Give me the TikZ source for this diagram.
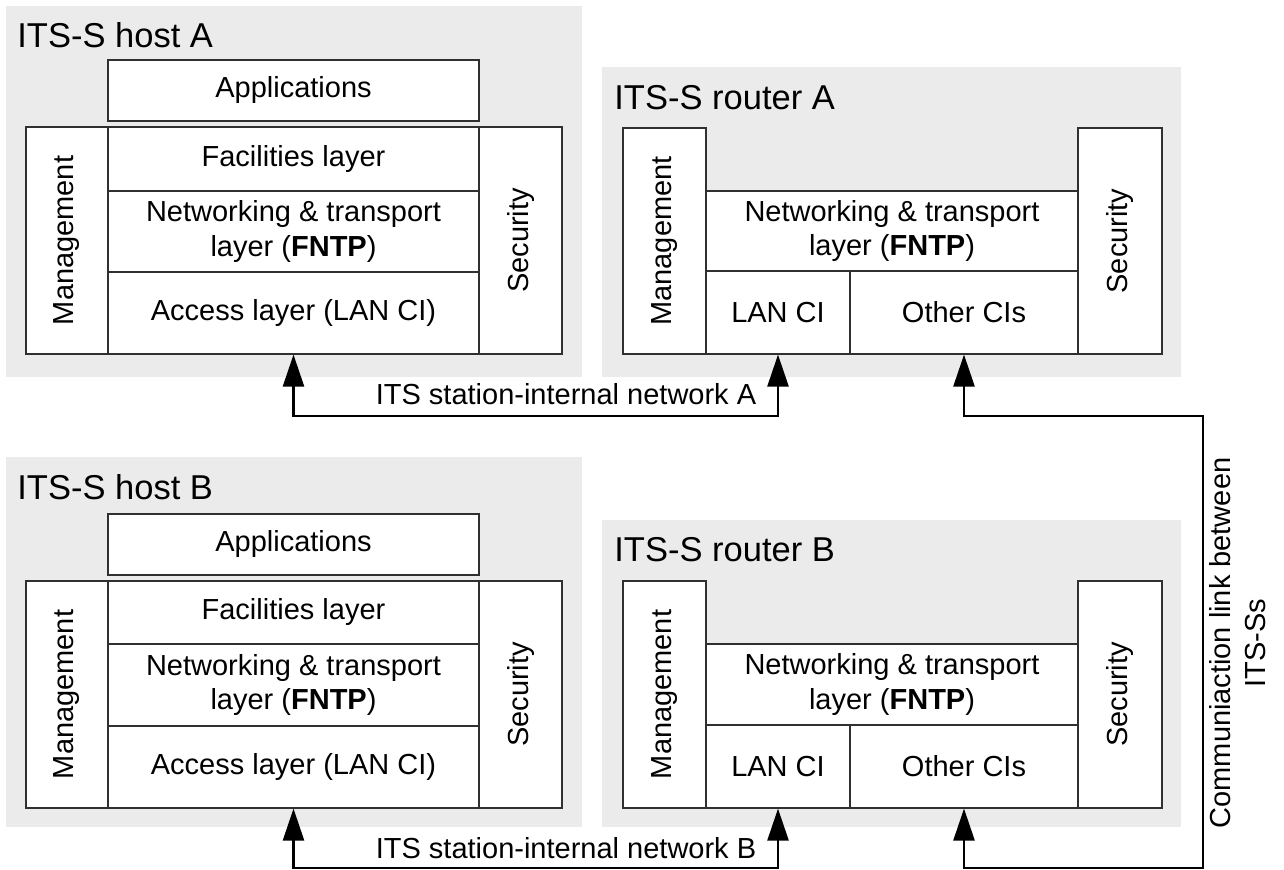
\documentclass[tikz,border=0pt]{standalone}
\usepackage{fontspec}
\setmainfont{Liberation Sans}
\usetikzlibrary{arrows.meta}
\definecolor{bggray}{HTML}{EBEBEB}
\definecolor{edgecol}{HTML}{303030}
\newcommand{\myBody}{\fontsize{14.5}{17.4}\selectfont}
\newcommand{\myTitle}{\fontsize{17.25}{20}\selectfont}
% style, name, x1, y1, x2, y2, text
\newcommand{\mkbox}[7]{%
  \node[#1, minimum width={(#5-#3)*0.5pt}, minimum height={(#6-#4)*0.5pt}]
    (#2) at ({(#3+#5)/2},{(#4+#6)/2}) {#7};}
\begin{document}
\begin{tikzpicture}[x=0.5pt,y=-0.5pt,
  panel/.style={fill=bggray, draw=none, inner sep=0pt},
  cell/.style={draw=edgecol, fill=white, line width=0.6pt, inner sep=0pt,
    align=center, font=\myBody},
  vtext/.style={rotate=90, font=\myBody, inner sep=0pt},
  title/.style={anchor=base west, font=\myTitle, inner sep=0pt},
  netlabel/.style={anchor=base, font=\myBody, inner sep=0pt},
  link/.style={line width=1.25pt, draw=black,
    {Triangle[length=16pt,width=10.5pt]}-{Triangle[length=16pt,width=10.5pt]}}]
\useasboundingbox (0,0) rectangle (1284,870);

% ---------- ITS-S host A ----------
\mkbox{panel}{hostA}{6}{6}{582}{377}{}
\node[title] (hostAt) at (17,48) {ITS-S host A};
\mkbox{cell}{haApp}{108}{60}{479}{121}{Applications}
\mkbox{cell}{haMgmt}{26}{127}{108}{354}{}
\mkbox{cell}{haSec}{479}{127}{562}{354}{}
\mkbox{cell}{haFac}{108}{127}{479}{191}{Facilities layer}
\mkbox{cell}{haNet}{108}{191}{479}{272}{Networking \& transport\\layer (\textbf{FNTP})}
\mkbox{cell}{haAcc}{108}{272}{479}{354}{Access layer (LAN CI)}
\node[vtext] at (haMgmt) {Management};
\node[vtext] at (haSec) {Security};

% ---------- ITS-S router A ----------
\mkbox{panel}{routerA}{602}{67}{1181}{377}{}
\node[title] (routerAt) at (614,110) {ITS-S router A};
\mkbox{cell}{raMgmt}{623}{128}{706}{354}{}
\mkbox{cell}{raSec}{1078}{128}{1162}{354}{}
\mkbox{cell}{raNet}{706}{191}{1078}{271}{Networking \& transport\\layer (\textbf{FNTP})}
\mkbox{cell}{raLan}{706}{271}{850}{354}{LAN CI}
\mkbox{cell}{raOth}{850}{271}{1078}{354}{Other CIs}
\node[vtext] at (raMgmt) {Management};
\node[vtext] at (raSec) {Security};

% ---------- ITS-S host B ----------
\mkbox{panel}{hostB}{6}{457}{582}{827}{}
\node[title] (hostBt) at (17,500) {ITS-S host B};
\mkbox{cell}{hbApp}{108}{514}{479}{575}{Applications}
\mkbox{cell}{hbMgmt}{26}{581}{108}{808}{}
\mkbox{cell}{hbSec}{479}{581}{562}{808}{}
\mkbox{cell}{hbFac}{108}{581}{479}{644}{Facilities layer}
\mkbox{cell}{hbNet}{108}{644}{479}{726}{Networking \& transport\\layer (\textbf{FNTP})}
\mkbox{cell}{hbAcc}{108}{726}{479}{808}{Access layer (LAN CI)}
\node[vtext] at (hbMgmt) {Management};
\node[vtext] at (hbSec) {Security};

% ---------- ITS-S router B ----------
\mkbox{panel}{routerB}{602}{520}{1181}{827}{}
\node[title] (routerBt) at (614,562) {ITS-S router B};
\mkbox{cell}{rbMgmt}{623}{581}{706}{808}{}
\mkbox{cell}{rbSec}{1078}{581}{1162}{808}{}
\mkbox{cell}{rbNet}{706}{644}{1078}{725}{Networking \& transport\\layer (\textbf{FNTP})}
\mkbox{cell}{rbLan}{706}{725}{850}{808}{LAN CI}
\mkbox{cell}{rbOth}{850}{725}{1078}{808}{Other CIs}
\node[vtext] at (rbMgmt) {Management};
\node[vtext] at (rbSec) {Security};

% ---------- connectors ----------
\coordinate (netA) at (0,416);
\coordinate (netB) at (0,868);
\coordinate (commTop) at (1203,416);
\coordinate (commBot) at (1203,868);

\draw[link] (haAcc.south) -- (haAcc.south |- netA) -- (raLan.south |- netA) -- (raLan.south);
\draw[link] (hbAcc.south) -- (hbAcc.south |- netB) -- (rbLan.south |- netB) -- (rbLan.south);
\draw[link] (raOth.south) -- (raOth.south |- netA) -- (commTop) -- (commBot)
  -- (rbOth.south |- netB) -- (rbOth.south);

\node[netlabel] (labA) at (566,405) {ITS station-internal network A};
\node[netlabel] (labB) at (566,858) {ITS station-internal network B};
\node[vtext, align=center] (labC) at (1238,643)
  {Communiaction link between\\ITS-Ss};
\end{tikzpicture}
\end{document}
